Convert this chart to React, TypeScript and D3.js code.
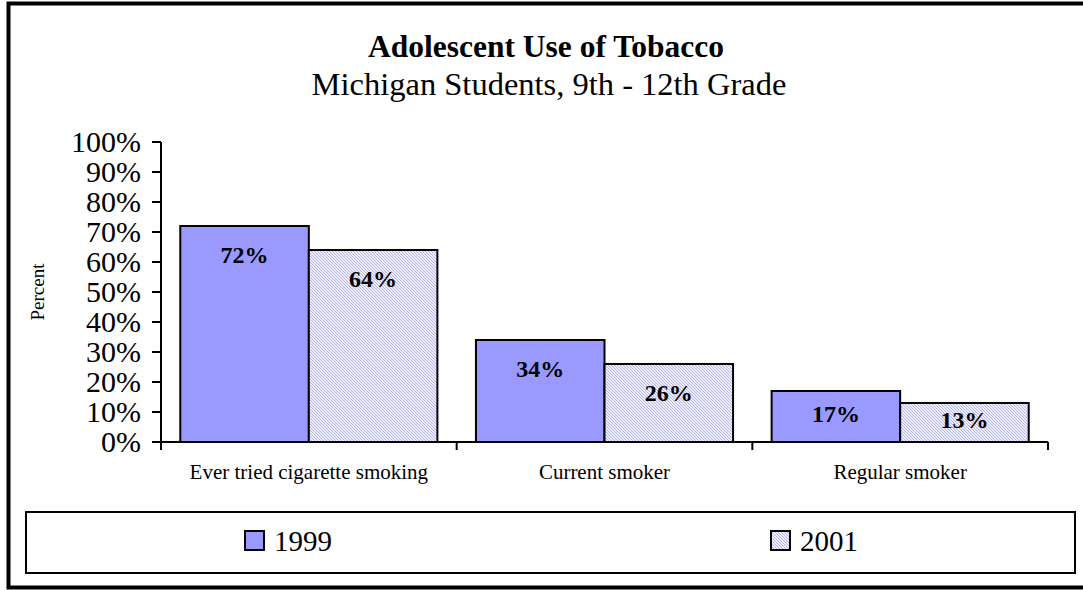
import * as d3 from "d3";

const categories = ["Ever tried cigarette smoking", "Current smoker", "Regular smoker"];
const seriesNames = ["1999", "2001"];
const values1999 = [72, 34, 17];
const values2001 = [64, 26, 13];
const yTicks = [0, 10, 20, 30, 40, 50, 60, 70, 80, 90, 100];

const width = 1083;
const height = 590;
const font = "'Liberation Serif', 'Times New Roman', serif";

export default function App() {
	// scales
	const x0 = d3.scaleBand().domain(categories).range([161, 1048]).padding(0);
	const x1 = d3
		.scaleBand()
		.domain(seriesNames)
		.range([0, x0.bandwidth()])
		.paddingInner(0)
		.paddingOuter(0.15);
	const y = d3.scaleLinear().domain([0, 100]).range([442, 142]);

	const series = [
		{ name: "1999", values: values1999, fill: "#9999ff" },
		{ name: "2001", values: values2001, fill: "url(#hatch)" },
	];

	// Excel-ish label placement: near the top, but centred on short bars
	const labelY = (v: number) => Math.min(y(v) + 37, (y(v) + y(0)) / 2 + 5);

	return (
		<svg
			width={width}
			height={height}
			style={{ position: "absolute", left: 0, top: 0, background: "#fff" }}
			fontFamily={font}
		>
			<defs>
				<pattern id="hatch" width="3" height="3" patternUnits="userSpaceOnUse">
					<rect width="3" height="3" fill="#eeeefc" />
					<path d="M-1,-1 L4,4 M-1,2 L1,4 M2,-1 L4,1" stroke="#b4b4ec" strokeWidth="1" />
				</pattern>
			</defs>

			{/* outer frame */}
			<rect x={8.5} y={3.5} width={1080} height={584} fill="none" stroke="#000" strokeWidth={4} />

			{/* titles */}
			<text x={546} y={57} textAnchor="middle" fontWeight="bold" fontSize={31.5}>
				Adolescent Use of Tobacco
			</text>
			<text x={549} y={95} textAnchor="middle" fontSize={32.5}>
				Michigan Students, 9th - 12th Grade
			</text>

			{/* bars */}
			{series.map((s) =>
				categories.map((c, i) => {
					const bx = (x0(c) as number) + (x1(s.name) as number);
					return (
						<g key={s.name + c}>
							<rect
								x={bx}
								y={y(s.values[i])}
								width={x1.bandwidth()}
								height={y(0) - y(s.values[i])}
								fill={s.fill}
								stroke="#000"
								strokeWidth={2}
							/>
							<text
								x={bx + x1.bandwidth() / 2}
								y={labelY(s.values[i])}
								textAnchor="middle"
								fontWeight="bold"
								fontSize={24}
							>
								{s.values[i]}%
							</text>
						</g>
					);
				}),
			)}

			{/* y axis */}
			<line x1={161} x2={161} y1={y(100)} y2={y(0) + 6} stroke="#000" strokeWidth={2} />
			{yTicks.map((t) => (
				<g key={t}>
					<line x1={152} x2={161} y1={y(t)} y2={y(t)} stroke="#000" strokeWidth={2} />
					<text x={141} y={y(t) + 10} textAnchor="end" fontSize={30}>
						{t}%
					</text>
				</g>
			))}
			<text
				transform={`translate(44,${(y(0) + y(100)) / 2}) rotate(-90)`}
				textAnchor="middle"
				fontSize={19}
			>
				Percent
			</text>

			{/* x axis */}
			<line x1={152} x2={1048} y1={y(0)} y2={y(0)} stroke="#000" strokeWidth={2} />
			{[...categories.map((c) => x0(c) as number), 1048].map((t) => (
				<line key={t} x1={t} x2={t} y1={y(0)} y2={y(0) + 8} stroke="#000" strokeWidth={2} />
			))}
			{categories.map((c) => (
				<text
					key={c}
					x={(x0(c) as number) + x0.bandwidth() / 2}
					y={479}
					textAnchor="middle"
					fontSize={21}
				>
					{c}
				</text>
			))}

			{/* legend */}
			<rect x={26} y={512} width={1049} height={61} fill="none" stroke="#000" strokeWidth={2} />
			{series.map((s, i) => {
				const lx = i === 0 ? 245 : 771;
				return (
					<g key={s.name}>
						<rect x={lx} y={531} width={19} height={19} fill={s.fill} stroke="#000" strokeWidth={2} />
						<text x={lx + 29} y={551} fontSize={29}>
							{s.name}
						</text>
					</g>
				);
			})}
		</svg>
	);
}
